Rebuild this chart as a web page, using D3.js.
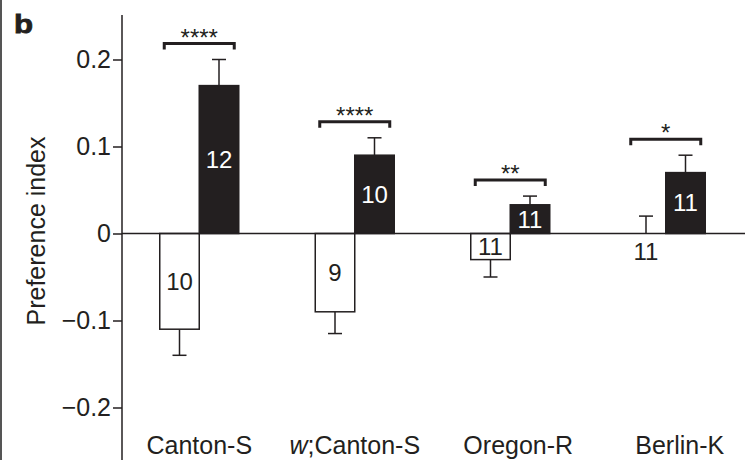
<!DOCTYPE html>
<html>
<head>
<meta charset="utf-8">
<script src="https://cdn.jsdelivr.net/npm/d3@7"></script>
<style>
  html, body { margin: 0; padding: 0; background: #fff; }
  svg { display: block; }
  text { font-family: "Liberation Sans", Arial, Helvetica, sans-serif; fill: #231f20; }
</style>
</head>
<body>
<svg id="chart" width="745" height="460"></svg>
<script>
// Strains and measured preference indices
const strains = ["Canton-S", "w;Canton-S", "Oregon-R", "Berlin-K"];
const controlMean = [-0.11, -0.09, -0.03, 0.0];
const controlSem = [0.03, 0.025, 0.02, 0.02];
const testMean = [0.17, 0.09, 0.033, 0.07];
const testSem = [0.03, 0.02, 0.01, 0.02];
const controlN = [10, 9, 11, 11];
const testN = [12, 10, 11, 11];
const significance = ["****", "****", "**", "*"];
const yTicks = [-0.2, -0.1, 0, 0.1, 0.2];

const ink = "#231f20";
const svg = d3.select("#chart");

const x = d3.scaleBand().domain(strains).range([121.5, 743.5]).padding(0);
const y = d3.scaleLinear().domain([-0.2, 0.2]).range([407.5, 59.5]);
const sub = d3.scaleBand().domain(["control", "test"]).range([-39.5, 39.5]);
const barW = sub.bandwidth();

// Panel edge on the left
svg.append("rect").attr("x", 0).attr("y", 0).attr("width", 2).attr("height", 460).attr("fill", "#555");

// Panel letter
svg.append("text").attr("transform", "translate(14,33) scale(1.2,1)")
  .style("font-size", "26px").style("font-weight", "bold").style("stroke", ink)
  .style("stroke-width", 0.8).text("b");

// Y axis
const yAxis = d3.axisLeft(y).tickValues(yTicks).tickSize(9).tickPadding(2)
  .tickFormat(d => d === 0 ? "0" : d3.format(".1f")(d).replace("-", "\u2212"));
const gy = svg.append("g").attr("transform", "translate(122,0)").call(yAxis);
gy.select(".domain").remove();
gy.selectAll(".tick line").attr("stroke", ink).attr("stroke-width", 1.5);
gy.selectAll(".tick text").style("font-size", "25px").attr("fill", ink)
  .style("font-family", "'Liberation Sans', Arial, sans-serif");
svg.append("line").attr("x1", 122).attr("x2", 122).attr("y1", 15).attr("y2", 460)
  .attr("stroke", ink).attr("stroke-width", 1.5);

// Y axis title
svg.append("text")
  .attr("transform", "translate(45,231) rotate(-90)")
  .attr("text-anchor", "middle")
  .style("font-size", "25px")
  .text("Preference index");

// Bars, error bars and sample sizes
const rows = strains.map((s, i) => ({
  strain: s, i,
  bars: [
    { kind: "control", mean: controlMean[i], sem: controlSem[i], n: controlN[i] },
    { kind: "test", mean: testMean[i], sem: testSem[i], n: testN[i] }
  ]
}));

const groups = svg.selectAll("g.strain").data(rows).join("g")
  .attr("class", "strain")
  .attr("transform", d => `translate(${x(d.strain) + x.bandwidth() / 2},0)`);

const bar = groups.selectAll("g.bar").data(d => d.bars).join("g").attr("class", "bar");

// error bars (drawn first so the bar outline sits on top)
bar.each(function(d) {
  const g = d3.select(this);
  const cx = sub(d.kind) + barW / 2;
  const dir = d.mean < 0 ? -1 : 1;
  const tip = d.mean + dir * d.sem;
  g.append("line").attr("x1", cx).attr("x2", cx)
    .attr("y1", y(d.mean)).attr("y2", y(tip))
    .attr("stroke", ink).attr("stroke-width", 1.5);
  g.append("line").attr("x1", cx - 7).attr("x2", cx + 7)
    .attr("y1", y(tip)).attr("y2", y(tip))
    .attr("stroke", ink).attr("stroke-width", 1.5);
});

bar.filter(d => d.mean !== 0).append("rect")
  .attr("x", d => sub(d.kind))
  .attr("width", barW)
  .attr("y", d => y(Math.max(0, d.mean)))
  .attr("height", d => Math.abs(y(d.mean) - y(0)))
  .attr("fill", d => d.kind === "test" ? ink : "#fff")
  .attr("stroke", ink).attr("stroke-width", 1.5);

bar.append("text")
  .attr("x", d => sub(d.kind) + barW / 2)
  .attr("y", d => d.mean === 0 ? y(0) + 18 : (y(d.mean) + y(0)) / 2)
  .attr("dy", "0.35em")
  .attr("text-anchor", "middle")
  .style("font-size", "24px")
  .style("fill", d => d.kind === "test" ? "#fff" : ink)
  .text(d => d.n);

// Zero line
svg.append("line").attr("x1", 122).attr("x2", 745).attr("y1", y(0)).attr("y2", y(0))
  .attr("stroke", ink).attr("stroke-width", 1.5);

// Significance brackets
groups.each(function(d) {
  const g = d3.select(this);
  const top = d3.min(d.bars, b => y(b.mean + (b.mean < 0 ? -1 : 1) * b.sem));
  const by = Math.min(top, y(0)) - 16;
  g.append("path")
    .attr("d", `M${-35},${by + 6}V${by}H${35}V${by + 6}`)
    .attr("fill", "none").attr("stroke", ink).attr("stroke-width", 3);
  g.append("text").attr("x", 0).attr("y", by + 2)
    .attr("text-anchor", "middle")
    .style("font-size", "24px")
    .text(significance[d.i]);
});

// Category labels
const labelShift = [0, 0, 8, 14];
const xl = svg.selectAll("text.cat").data(strains).join("text")
  .attr("class", "cat")
  .attr("x", (d, i) => x(d) + x.bandwidth() / 2 + labelShift[i])
  .attr("y", 454)
  .attr("text-anchor", "middle")
  .style("font-size", "25px");
xl.each(function(d) {
  const t = d3.select(this);
  if (d.startsWith("w;")) {
    t.append("tspan").style("font-style", "italic").text("w");
    t.append("tspan").text(d.slice(1));
  } else {
    t.text(d);
  }
});
</script>
</body>
</html>
